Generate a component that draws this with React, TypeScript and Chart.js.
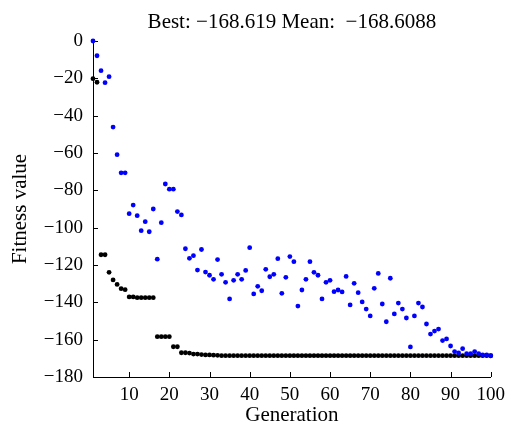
import { useEffect, useRef } from 'react';
import { Chart, registerables } from 'chart.js';

Chart.register(...registerables);

const TITLE = 'Best: \u2212168.619 Mean:  \u2212168.6088';
const X_LABEL = 'Generation';
const Y_LABEL = 'Fitness value';

const GENERATIONS = [
  1, 2, 3, 4, 5, 6, 7, 8, 9, 10,
  11, 12, 13, 14, 15, 16, 17, 18, 19, 20,
  21, 22, 23, 24, 25, 26, 27, 28, 29, 30,
  31, 32, 33, 34, 35, 36, 37, 38, 39, 40,
  41, 42, 43, 44, 45, 46, 47, 48, 49, 50,
  51, 52, 53, 54, 55, 56, 57, 58, 59, 60,
  61, 62, 63, 64, 65, 66, 67, 68, 69, 70,
  71, 72, 73, 74, 75, 76, 77, 78, 79, 80,
  81, 82, 83, 84, 85, 86, 87, 88, 89, 90,
  91, 92, 93, 94, 95, 96, 97, 98, 99, 100,
];

const BEST = [
  -20.2, -22.1, -114.5, -114.5, -123.9, -128.0, -130.4, -132.7, -133.2, -137.1,
  -137.1, -137.5, -137.5, -137.5, -137.5, -137.5, -158.4, -158.4, -158.4, -158.4,
  -163.8, -163.8, -167.0, -167.0, -167.2, -167.7, -167.7, -168.0, -168.2, -168.2,
  -168.3, -168.4, -168.6, -168.6, -168.6, -168.6, -168.6, -168.6, -168.6, -168.6,
  -168.6, -168.6, -168.6, -168.6, -168.6, -168.6, -168.6, -168.6, -168.6, -168.6,
  -168.6, -168.6, -168.6, -168.6, -168.6, -168.6, -168.6, -168.6, -168.6, -168.6,
  -168.6, -168.6, -168.6, -168.6, -168.6, -168.6, -168.6, -168.6, -168.6, -168.6,
  -168.6, -168.6, -168.6, -168.6, -168.6, -168.6, -168.6, -168.6, -168.6, -168.6,
  -168.6, -168.6, -168.6, -168.6, -168.6, -168.6, -168.6, -168.6, -168.6, -168.6,
  -168.6, -168.6, -168.6, -168.6, -168.6, -168.6, -168.6, -168.6, -168.6, -168.619,
];

const MEAN = [
  0.0, -7.9, -15.9, -22.3, -19.1, -46.1, -60.9, -70.6, -70.6, -92.5,
  -87.9, -93.6, -101.6, -96.8, -102.2, -90.0, -116.9, -97.3, -76.6, -79.4,
  -79.4, -91.4, -93.2, -111.3, -116.4, -115.0, -122.7, -111.7, -123.8, -125.5,
  -127.7, -117.1, -125.0, -129.3, -138.2, -128.2, -125.0, -127.7, -122.9, -110.7,
  -135.5, -131.4, -133.8, -122.3, -126.3, -125.0, -116.6, -135.2, -126.6, -115.5,
  -118.2, -142.0, -133.4, -127.7, -118.2, -123.9, -125.5, -138.2, -129.3, -128.2,
  -134.3, -133.4, -134.4, -126.1, -141.4, -129.8, -134.8, -139.8, -143.6, -147.3,
  -132.5, -124.5, -140.9, -150.4, -127.1, -146.2, -140.4, -143.6, -148.4, -163.9,
  -147.3, -140.4, -142.5, -151.6, -157.0, -155.4, -154.3, -160.5, -159.6, -163.4,
  -166.4, -167.1, -164.8, -167.5, -167.5, -166.4, -167.5, -168.2, -168.2, -168.6088,
];

const X_TICKS = [10, 20, 30, 40, 50, 60, 70, 80, 90, 100];
const Y_TICKS = [0, -20, -40, -60, -80, -100, -120, -140, -160, -180];

const FONT = "'Liberation Serif', 'Times New Roman', Times, serif";

const inwardTicks = {
  id: 'inwardTicks',
  beforeDatasetsDraw(chart: any) {
    const { ctx, chartArea } = chart;
    const xs = chart.scales.x;
    const ys = chart.scales.y;
    ctx.save();
    ctx.strokeStyle = '#000';
    ctx.lineWidth = 1;
    X_TICKS.forEach((v) => {
      const px = Math.round(xs.getPixelForValue(v)) + 0.5;
      ctx.beginPath();
      ctx.moveTo(px, chartArea.bottom);
      ctx.lineTo(px, chartArea.bottom - 5);
      ctx.stroke();
    });
    Y_TICKS.forEach((v) => {
      const py = Math.round(ys.getPixelForValue(v)) + 0.5;
      ctx.beginPath();
      ctx.moveTo(chartArea.left, py);
      ctx.lineTo(chartArea.left + 5, py);
      ctx.stroke();
    });
    ctx.restore();
  },
  afterDraw(chart: any) {
    const { ctx, chartArea } = chart;
    ctx.save();
    ctx.fillStyle = '#000';
    ctx.font = `21px ${FONT}`;
    ctx.textAlign = 'center';
    ctx.textBaseline = 'alphabetic';
    ctx.fillText(TITLE, (chartArea.left + chartArea.right) / 2, 28);
    ctx.restore();
  },
};

export default function App() {
  const canvasRef = useRef<HTMLCanvasElement | null>(null);

  useEffect(() => {
    const canvas = canvasRef.current;
    if (!canvas) return;
    const chart = new Chart(canvas, {
      type: 'scatter',
      data: {
        datasets: [
          {
            label: 'Mean',
            data: GENERATIONS.map((g, i) => ({ x: g, y: MEAN[i] })),
            backgroundColor: '#0000ff',
            pointBackgroundColor: '#0000ff',
            pointBorderWidth: 0,
            borderWidth: 0,
            pointRadius: 2.4,
            pointHoverRadius: 2.4,
            clip: false,
            order: 0,
          },
          {
            label: 'Best',
            data: GENERATIONS.map((g, i) => ({ x: g, y: BEST[i] })),
            backgroundColor: '#000000',
            pointBackgroundColor: '#000000',
            pointBorderWidth: 0,
            borderWidth: 0,
            pointRadius: 2.4,
            pointHoverRadius: 2.4,
            clip: false,
            order: 1,
          },
        ],
      },
      options: {
        responsive: false,
        animation: false,
        devicePixelRatio: 1,
        layout: { padding: { top: 41, left: 0, right: 17, bottom: 0 } },
        plugins: {
          legend: { display: false },
          tooltip: { enabled: false },
          title: { display: false },
        },
        scales: {
          x: {
            type: 'linear',
            position: 'bottom',
            min: 1,
            max: 100,
            afterBuildTicks: (s: any) => {
              s.ticks = X_TICKS.map((v) => ({ value: v }));
            },
            afterFit: (s: any) => {
              s.height = 51;
            },
            grid: { display: false, drawTicks: false },
            border: { display: true, color: '#000', width: 1 },
            ticks: {
              color: '#000',
              font: { family: FONT, size: 19 },
              padding: 7,
              maxRotation: 0,
              autoSkip: false,
              callback: (v: any) => String(v),
            },
            title: {
              display: true,
              text: X_LABEL,
              color: '#000',
              font: { family: FONT, size: 21 },
              padding: { top: 3, bottom: 0 },
            },
          },
          y: {
            type: 'linear',
            min: -180,
            max: 0,
            afterBuildTicks: (s: any) => {
              s.ticks = Y_TICKS.map((v) => ({ value: v }));
            },
            afterFit: (s: any) => {
              s.width = 93;
            },
            grid: { display: false, drawTicks: false },
            border: { display: true, color: '#000', width: 1 },
            ticks: {
              color: '#000',
              font: { family: FONT, size: 19 },
              padding: 10,
              autoSkip: false,
              callback: (v: any) => (v < 0 ? '\u2212' + Math.abs(v) : String(v)),
            },
            title: {
              display: true,
              text: Y_LABEL,
              color: '#000',
              font: { family: FONT, size: 21 },
              padding: { top: 8, bottom: 0 },
            },
          },
        },
      },
      plugins: [inwardTicks],
    } as any);
    return () => chart.destroy();
  }, []);

  return (
    <div style={{ position: 'fixed', left: 0, top: 0, width: 512, height: 428, background: '#fff' }}>
      <canvas ref={canvasRef} width={512} height={428} style={{ display: 'block', width: 512, height: 428 }} />
    </div>
  );
}
